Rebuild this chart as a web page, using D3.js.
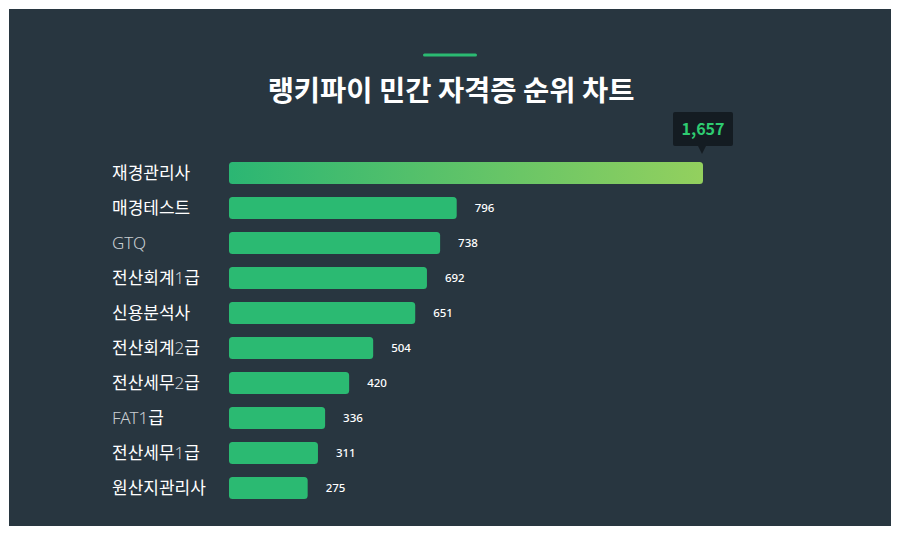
<!DOCTYPE html>
<html>
<head>
<meta charset="utf-8">
<script src="https://cdn.jsdelivr.net/npm/d3@7"></script>
<style>
  html, body { margin: 0; padding: 0; background: #ffffff; }
  svg { display: block; }
</style>
</head>
<body>
<div id="chart"></div>
<script>
// data
const categories = ['재경관리사', '매경테스트', 'GTQ', '전산회계1급', '신용분석사',
    '전산회계2급', '전산세무2급', 'FAT1급', '전산세무1급', '원산지관리사'];
const counts = [1657, 796, 738, 692, 651, 504, 420, 336, 311, 275];
const title = '랭키파이 민간 자격증 순위 차트';

const width = 900;
const height = 540;
const fontFamily = `'Noto Sans CJK KR', 'Noto Sans', sans-serif`;
const latinFont = `'Noto Sans', 'Open Sans', sans-serif`;
const bgColor = '#283640';
const barColor = '#2bba72';

const data = categories.map((c, i) => ({ category: c, count: counts[i] }));

const svg = d3.select('#chart')
    .append('svg')
    .attr('width', width)
    .attr('height', height);

// panel
svg.append('rect')
    .attr('x', 9)
    .attr('y', 9)
    .attr('width', 882)
    .attr('height', 517)
    .attr('fill', bgColor);

const defs = svg.append('defs');
const grad = defs.append('linearGradient')
    .attr('id', 'topGrad')
    .attr('x1', '0%').attr('x2', '100%')
    .attr('y1', '0%').attr('y2', '0%');
grad.append('stop').attr('offset', '0%').attr('stop-color', '#2bb673');
grad.append('stop').attr('offset', '100%').attr('stop-color', '#93d05e');

// title + accent line
svg.append('rect')
    .attr('x', 423)
    .attr('y', 53.5)
    .attr('width', 54)
    .attr('height', 3)
    .attr('rx', 1.5)
    .attr('fill', barColor);

svg.append('text')
    .attr('x', 451)
    .attr('y', 101)
    .attr('text-anchor', 'middle')
    .style('font-family', fontFamily)
    .style('font-size', '28.5px')
    .style('font-weight', 700)
    .attr('fill', '#ffffff')
    .text(title);

const xScale = d3.scaleLinear()
    .domain([0, d3.max(counts)])
    .range([229, 703]);

const yScale = d3.scaleBand()
    .domain(categories)
    .range([155.5, 505.5])
    .paddingInner(0.37)
    .paddingOuter(0.185);

// category labels: latin runs drawn thinner and greyer, as in the source
const splitRuns = s => s.match(/[A-Za-z0-9]+|[^A-Za-z0-9]+/g);

const cats = svg.selectAll('.cat')
    .data(data)
    .join('text')
    .attr('class', 'cat')
    .attr('x', 112)
    .attr('y', d => yScale(d.category) + yScale.bandwidth() / 2)
    .attr('dy', '0.36em')
    .style('font-family', fontFamily)
    .style('font-size', '17px')
    .attr('fill', '#ffffff');

cats.selectAll('tspan')
    .data(d => splitRuns(d.category))
    .join('tspan')
    .style('font-family', r => /[A-Za-z0-9]/.test(r) ? latinFont : fontFamily)
    .style('font-weight', r => /[A-Za-z0-9]/.test(r) ? 300 : 400)
    .attr('fill', r => /[A-Za-z0-9]/.test(r) ? '#c9ced2' : '#ffffff')
    .text(r => r);

// bars
svg.selectAll('.bar')
    .data(data)
    .join('rect')
    .attr('class', 'bar')
    .attr('x', xScale(0))
    .attr('y', d => yScale(d.category))
    .attr('width', d => xScale(d.count) - xScale(0))
    .attr('height', yScale.bandwidth())
    .attr('rx', 3.5)
    .attr('fill', (d, i) => i === 0 ? 'url(#topGrad)' : barColor);

// value labels (all but the first, which gets the tooltip)
svg.selectAll('.val')
    .data(data.slice(1))
    .join('text')
    .attr('class', 'val')
    .attr('x', d => xScale(d.count) + 18)
    .attr('y', d => yScale(d.category) + yScale.bandwidth() / 2)
    .attr('dy', '0.36em')
    .style('font-family', latinFont)
    .style('font-size', '11.5px')
    .style('font-weight', 500)
    .attr('fill', '#ffffff')
    .text(d => d3.format(',')(d.count));

// tooltip over the top bar
const first = data[0];
const tipX = xScale(first.count) - 1;
const tipBottom = yScale(first.category) - 16;
const tip = svg.append('g');
tip.append('rect')
    .attr('x', tipX - 29)
    .attr('y', tipBottom - 34)
    .attr('width', 60)
    .attr('height', 34)
    .attr('rx', 2)
    .attr('fill', '#141c22');
tip.append('path')
    .attr('d', `M${tipX - 4},${tipBottom} L${tipX + 4},${tipBottom} L${tipX},${tipBottom + 8} Z`)
    .attr('fill', '#141c22');
tip.append('text')
    .attr('x', tipX + 1)
    .attr('y', tipBottom - 17)
    .attr('dy', '0.36em')
    .attr('text-anchor', 'middle')
    .style('font-family', fontFamily)
    .style('font-size', '16px')
    .style('font-weight', 700)
    .attr('fill', '#2ecc71')
    .text(d3.format(',')(first.count));
</script>
</body>
</html>
